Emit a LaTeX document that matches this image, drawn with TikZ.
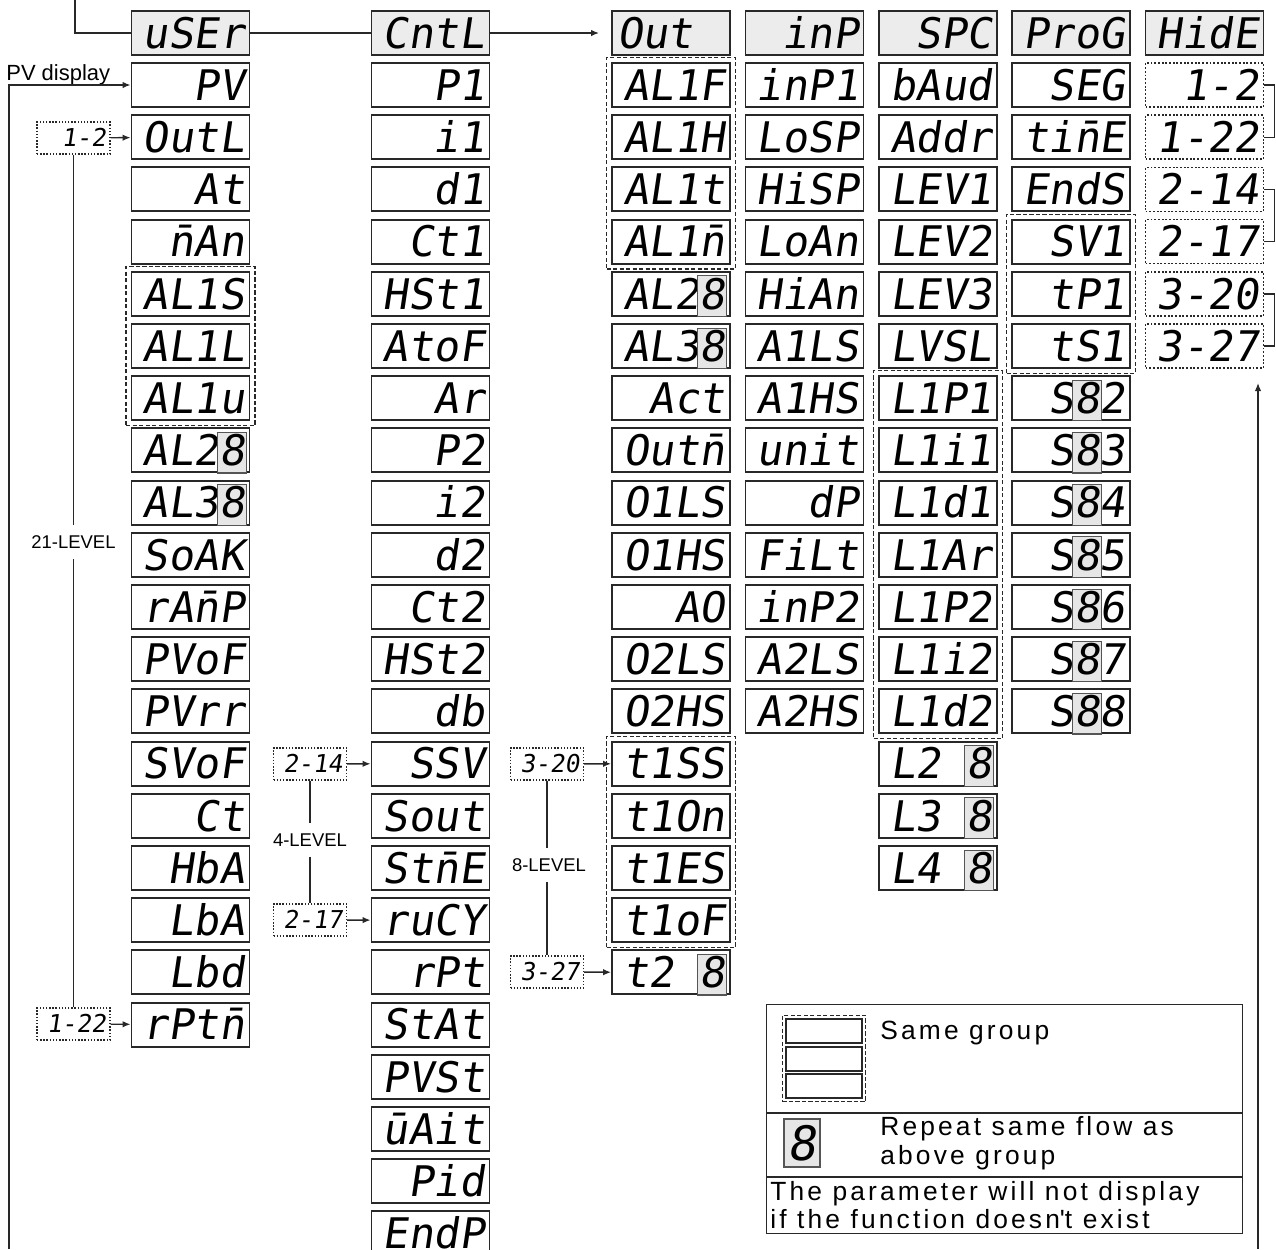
\documentclass[tikz,border=0pt]{standalone}
\usepackage{fontspec}
\setmainfont{Liberation Sans}
\newfontfamily\segfont[FakeSlant=0.15]{DejaVu Sans Mono}
\newfontfamily\legendfont[LetterSpace=12]{Liberation Sans}
\usepackage{xcolor}
\usetikzlibrary{arrows.meta,fit,positioning}
\definecolor{headgray}{RGB}{236,236,236}
\definecolor{hlfill}{RGB}{230,230,230}
\definecolor{hlframe}{RGB}{85,85,85}
\definecolor{boxline}{RGB}{40,40,40}
\newcommand\hl[1]{\kern-1.4pt{\setlength\fboxsep{0.8pt}\setlength\fboxrule{0.6pt}\fcolorbox{hlframe}{hlfill}{\rule[-3pt]{0pt}{20.5pt}#1}}\kern-1.4pt}
\tikzset{
  segbox/.style={draw=boxline, line width=1.1pt, minimum width=2.36cm, minimum height=0.88cm,
    text width=2.16cm, inner xsep=0.1cm, inner ysep=0pt, align=right,
    font=\segfont\fontsize{24}{24}\selectfont, text height=17.5pt, text depth=0pt},
  headbox/.style={segbox, fill=headgray},
  hidbox/.style={segbox, densely dotted, line width=0.9pt},
  sidebox/.style={draw=boxline, densely dotted, line width=0.8pt, minimum width=1.46cm, minimum height=0.64cm,
    text width=1.3cm, inner xsep=0.08cm, inner ysep=0pt, align=right,
    font=\segfont\fontsize{14}{14}\selectfont, text height=10.2pt, text depth=0pt},
  grp/.style={draw=boxline, dash pattern=on 2.4pt off 1.3pt, line width=0.7pt, inner sep=0.09cm},
  lvl/.style={font=\fontsize{10.5}{12}\selectfont, inner xsep=1pt, inner ysep=0.2cm},
  link/.style={line width=0.8pt, draw=boxline},
  arr/.style={link, -{Latex[length=1.6mm,width=1.3mm]}},
  legtxt/.style={font=\legendfont\fontsize{15}{16.4}\selectfont, align=left, inner sep=0pt}
}

\begin{document}
\begin{tikzpicture}[x=0.02cm, y=-0.02cm]
\path[use as bounding box, clip] (0,0) rectangle (1276,1249);
\def\colU{190.5}
\def\colC{430.5}
\def\colO{671}
\def\colI{804.5}
\def\colS{938}
\def\colP{1071}
\def\colH{1204.5}

% menu headers
\node[headbox] (u0) at (\colU,33) {uSEr};
\node[headbox] (c0) at (\colC,33) {CntL};
\node[headbox, align=left] (o0) at (\colO,33) {Out};
\node[headbox] (i0) at (\colI,33) {inP};
\node[headbox] (s0) at (\colS,33) {SPC};
\node[headbox] (p0) at (\colP,33) {ProG};
\node[headbox] (h0) at (\colH,33) {HidE};

% parameter columns
\foreach \txt [count=\r] in {PV, OutL, At, \=nAn, AL1S, AL1L, AL1u, AL2\hl{8}, AL3\hl{8},
    SoAK, rA\=nP, PVoF, PVrr, SVoF, Ct, HbA, LbA, Lbd, rPt\=n}{
  \pgfmathsetmacro\yy{32.8+52.2*\r}
  \node[segbox] (u\r) at (\colU,\yy) {\txt};
}
\foreach \txt [count=\r] in {P1, i1, d1, Ct1, HSt1, AtoF, Ar, P2, i2, d2, Ct2, HSt2, db,
    SSV, Sout, St\=nE, ruCY, rPt, StAt, PVSt, \=uAit, Pid, EndP}{
  \pgfmathsetmacro\yy{32.8+52.2*\r}
  \node[segbox] (c\r) at (\colC,\yy) {\txt};
}
\foreach \txt [count=\r] in {AL1F, AL1H, AL1t, AL1\=n, AL2\hl{8}, AL3\hl{8}, Act, Out\=n,
    O1LS, O1HS, AO, O2LS, O2HS, t1SS, t1On, t1ES, t1oF, t2\phantom{0}\hl{8}}{
  \pgfmathsetmacro\yy{32.8+52.2*\r}
  \node[segbox] (o\r) at (\colO,\yy) {\txt};
}
\foreach \txt [count=\r] in {inP1, LoSP, HiSP, LoAn, HiAn, A1LS, A1HS, unit, dP, FiLt,
    inP2, A2LS, A2HS}{
  \pgfmathsetmacro\yy{32.8+52.2*\r}
  \node[segbox] (i\r) at (\colI,\yy) {\txt};
}
\foreach \txt [count=\r] in {bAud, Addr, LEV1, LEV2, LEV3, LVSL, L1P1, L1i1, L1d1, L1Ar,
    L1P2, L1i2, L1d2, L2\phantom{0}\hl{8}, L3\phantom{0}\hl{8}, L4\phantom{0}\hl{8}}{
  \pgfmathsetmacro\yy{32.8+52.2*\r}
  \node[segbox] (s\r) at (\colS,\yy) {\txt};
}
\foreach \txt [count=\r] in {SEG, ti\=nE, EndS, SV1, tP1, tS1, S\hl{8}2, S\hl{8}3,
    S\hl{8}4, S\hl{8}5, S\hl{8}6, S\hl{8}7, S\hl{8}8}{
  \pgfmathsetmacro\yy{32.8+52.2*\r}
  \node[segbox] (p\r) at (\colP,\yy) {\txt};
}
\foreach \txt [count=\r] in {1-2, 1-22, 2-14, 2-17, 3-20, 3-27}{
  \pgfmathsetmacro\yy{32.8+52.2*\r}
  \node[hidbox] (h\r) at (\colH,\yy) {\txt};
}

% same-group frames
\node[grp, fit=(u5)(u7)] (gu) {};
\node[grp, fit=(o1)(o4)] (go1) {};
\node[grp, fit=(o14)(o17)] (go2) {};
\node[grp, fit=(s7)(s13)] (gs) {};
\node[grp, fit=(p4)(p6)] (gp) {};

% header chain
\coordinate (topfoot) at (75,0);
\draw[link] (topfoot) |- (u0.west);
\draw[link] (u0) -- (c0);
\draw[arr, shorten >=0.24cm] (c0) -- (o0);

% PV display entry
\node[font=\fontsize{12.5}{14}\selectfont, anchor=base west, inner sep=0pt] (pvlbl) at (6,80) {PV display};
\coordinate (pvfoot) at (9,1249);
\draw[arr] (pvfoot) |- (u1.west);

% level jumps
\node[sidebox] (k12) at (73.5,138) {1-2};
\node[sidebox] (k122) at (73.5,1024) {1-22};
\node[lvl] (lv21) at (73.5,542) {21-LEVEL};
\draw[arr] (k12) -- (u2);
\draw[arr] (k122) -- (u19);
\draw[link] (k12.south) -- (lv21.north);
\draw[link] (lv21.south) -- (k122.north);

\node[sidebox] (k214) at (310,764) {2-14};
\node[sidebox] (k217) at (310,920) {2-17};
\node[lvl] (lv4) at (310,840) {4-LEVEL};
\draw[arr] (k214) -- (c14);
\draw[arr] (k217) -- (c17);
\draw[link] (k214.south) -- (lv4.north);
\draw[link] (lv4.south) -- (k217.north);

\node[sidebox] (k320) at (547,764) {3-20};
\node[sidebox] (k327) at (547,972) {3-27};
\node[lvl] (lv8) at (549,865) {8-LEVEL};
\draw[arr] (k320) -- (o14);
\draw[arr] (k327) -- (o18);
\draw[link] (k320.south) -- (k320.south |- lv8.north);
\draw[link] (k327.north |- lv8.south) -- (k327.north);

% hidden pairs
\draw[link] (h1.east) -- ++(10,0) |- (h2.east);
\draw[link] (h3.east) -- ++(10,0) |- (h4.east);
\draw[link] (h5.east) -- ++(10,0) |- (h6.east);
\coordinate (hidfoot) at (1258,1249);
\coordinate (hidtip) at (1258,383);
\draw[arr] (hidfoot) -- (hidtip);

% legend
\node[draw=boxline, line width=0.8pt, minimum width=9.52cm, minimum height=4.58cm,
  anchor=north west, inner sep=0pt] (legend) at (766,1004) {};
\draw[link] (766,1113) -- (1242,1113);
\draw[link] (766,1177) -- (1242,1177);
\node[draw=boxline, line width=0.8pt, minimum width=1.52cm, minimum height=0.48cm, inner sep=0pt] (lg1) at (824,1031) {};
\node[draw=boxline, line width=0.8pt, minimum width=1.52cm, minimum height=0.48cm, inner sep=0pt] (lg2) at (824,1059) {};
\node[draw=boxline, line width=0.8pt, minimum width=1.52cm, minimum height=0.48cm, inner sep=0pt] (lg3) at (824,1086) {};
\node[grp, fit=(lg1)(lg3), inner sep=0.06cm] (lgg) {};
\node[legtxt, anchor=west] (lgt1) at (880,1033) {Same group};
\node[draw=hlframe, fill=hlfill, line width=0.6pt, minimum width=0.72cm, minimum height=0.96cm,
  inner sep=0pt, font=\segfont\fontsize{27}{27}\selectfont] (lg8) at (802,1143) {8};
\node[legtxt, anchor=west] (lgt2) at (880,1143) {Repeat same flow as\\above group};
\node[legtxt, anchor=west] (lgt3) at (770,1205) {The parameter will not display\\if the function doesn\textquotesingle t exist};
\end{tikzpicture}
\end{document}
